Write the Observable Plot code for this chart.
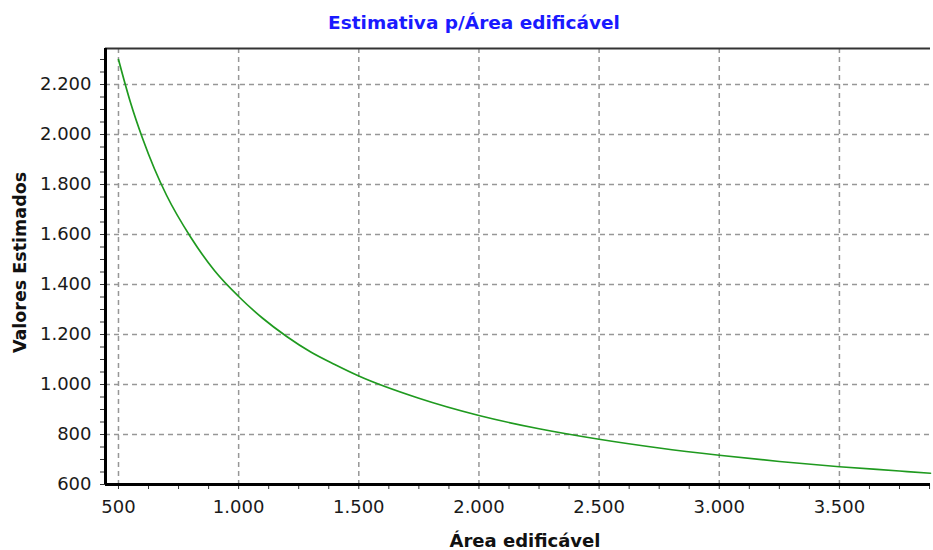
<!DOCTYPE html>
<html>
<head>
<meta charset="utf-8">
<script src="https://cdn.jsdelivr.net/npm/d3@7"></script>
<script src="https://cdn.jsdelivr.net/npm/@observablehq/plot@0.6"></script>
<style>
  html, body { margin: 0; padding: 0; background: #fff; }
  #chart svg { display: block; }
</style>
</head>
<body>
<div id="chart"></div>
<script>
// Values
const areas   = [500, 550, 600, 650, 700, 800, 900, 1000, 1100, 1200, 1300, 1400, 1500, 1750, 2000, 2250, 2500, 2750, 3000, 3250, 3500, 3750, 3879];
const valores = [2300, 2128, 1985, 1862, 1757, 1590, 1455, 1352, 1265, 1192, 1130, 1080, 1034, 945, 876, 823, 781, 746, 717, 692, 671, 654, 645];

const xTicks = [500, 1000, 1500, 2000, 2500, 3000, 3500];
const xMinorTicks = [625, 750, 875, 1125, 1250, 1375, 1625, 1750, 1875, 2125, 2250, 2375, 2625, 2750, 2875, 3125, 3250, 3375, 3625, 3750, 3875];
const yTicks = [600, 800, 1000, 1200, 1400, 1600, 1800, 2000, 2200];
const yMinorTicks = [650, 700, 750, 850, 900, 950, 1050, 1100, 1150, 1250, 1300, 1350, 1450, 1500, 1550, 1650, 1700, 1750, 1850, 1900, 1950, 2050, 2100, 2150, 2250, 2300];

const titulo = "Estimativa p/Área edificável";
const rotuloX = "Área edificável";
const rotuloY = "Valores Estimados";

const xDomain = [446, 3879];
const yDomain = [600, 2344];

const data = areas.map((a, i) => ({area: a, valor: valores[i]}));
const fmt = d3.formatLocale({decimal: ",", thousands: ".", grouping: [3], currency: ["", ""]}).format(",d");

const gridStyle = {stroke: "#979797", strokeOpacity: 1, strokeWidth: 1.5, strokeDasharray: "5,4"};

const chart = Plot.plot({
  width: 933,
  height: 550,
  marginLeft: 105,
  marginRight: 3,
  marginTop: 48,
  marginBottom: 66,
  style: {fontFamily: "'DejaVu Sans', Verdana, sans-serif", fontSize: "18px", color: "#1a1a1a", background: "#fff"},
  x: {domain: xDomain},
  y: {domain: yDomain},
  marks: [
    Plot.gridX(xTicks, gridStyle),
    Plot.gridY(yTicks, gridStyle),
    Plot.line(data, {x: "area", y: "valor", stroke: "#1f9a1f", strokeWidth: 1.7, curve: "monotone-x"}),
    Plot.axisX(xMinorTicks, {tickSize: 5, text: null, label: null, stroke: "#333"}),
    Plot.axisX(xTicks, {tickSize: 5, tickPadding: 11, tickFormat: fmt, label: null, stroke: "#333"}),
    Plot.axisY(yMinorTicks, {tickSize: 5, text: null, label: null, stroke: "#333"}),
    Plot.axisY(yTicks, {tickSize: 5, tickPadding: 9, tickFormat: fmt, label: null, stroke: "#333"}),
    Plot.ruleY([yDomain[1]], {stroke: "#333", strokeWidth: 2}),
    Plot.ruleY([yDomain[0]], {stroke: "#000", strokeWidth: 3}),
    Plot.ruleX([xDomain[0]], {stroke: "#000", strokeWidth: 3}),
    Plot.text([titulo], {frameAnchor: "top", lineAnchor: "middle", textAnchor: "middle", dy: -25, dx: -44, fill: "#1a1aff", fontWeight: "bold", fontSize: 18.5}),
    Plot.text([rotuloX], {frameAnchor: "bottom", lineAnchor: "middle", textAnchor: "middle", dy: 57, dx: 7, fill: "#111", fontWeight: "bold", fontSize: 18}),
    Plot.text([rotuloY], {frameAnchor: "left", lineAnchor: "middle", textAnchor: "middle", dx: -85, dy: -4, rotate: -90, fill: "#111", fontWeight: "bold", fontSize: 17.5})
  ]
});
document.getElementById("chart").append(chart);
</script>
</body>
</html>
